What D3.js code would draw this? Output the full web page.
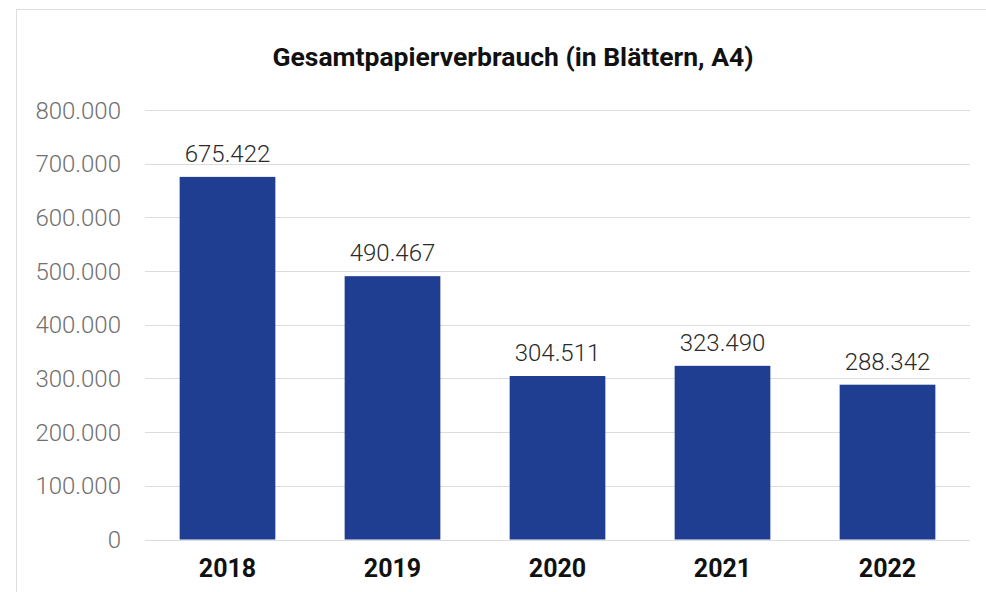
<!DOCTYPE html>
<html>
  <head>
    <meta charset="utf-8" />
    <title>Gesamtpapierverbrauch</title>
    <script src="https://cdn.jsdelivr.net/npm/d3@7"></script>
    <style type="text/css">
      body { margin: 0; background: #fff; }
      text { font-family: Roboto, sans-serif; }
    </style>
  </head>
  <body>
    <svg id="chart" width="986" height="592"></svg>
    <script type="text/javascript">
      // Jahre und Verbrauch
      var years = ['2018', '2019', '2020', '2021', '2022'];
      var sheets = [675422, 490467, 304511, 323490, 288342];
      var yTicks = [0, 100000, 200000, 300000, 400000, 500000, 600000, 700000, 800000];

      var fmt = d3.formatLocale({ decimal: ',', thousands: '.', grouping: [3], currency: ['', '€'] }).format(',d');

      var svg = d3.select('#chart');

      // Rahmen
      svg.append('rect')
        .attr('x', 16.5).attr('y', 9.5)
        .attr('width', 1000).attr('height', 700)
        .attr('fill', 'none').attr('stroke', '#dddddd');

      var x = d3.scaleBand().domain(years).range([145, 970]).paddingInner(0.42).paddingOuter(0.21);
      var y = d3.scaleLinear().domain([0, 800000]).range([539.5, 110]);

      svg.append('text')
        .attr('x', 513).attr('y', 66)
        .attr('text-anchor', 'middle')
        .style('font-size', '26.5px').style('font-weight', 'bold').attr('fill', '#111')
        .text('Gesamtpapierverbrauch (in Blättern, A4)');

      // Gitter
      svg.append('g').selectAll('line').data(yTicks).enter().append('line')
        .attr('x1', 145).attr('x2', 970)
        .attr('y1', (d) => Math.round(y(d)) + 0.5).attr('y2', (d) => Math.round(y(d)) + 0.5)
        .attr('stroke', '#dcdcdc');

      svg.append('g').selectAll('text').data(yTicks).enter().append('text')
        .attr('x', 121).attr('y', (d) => y(d) + 8.5)
        .attr('text-anchor', 'end')
        .style('font-size', '24px').style('font-weight', 300).attr('fill', '#707070')
        .text((d) => fmt(d));

      svg.append('g').selectAll('rect').data(sheets).enter().append('rect')
        .attr('x', (d, i) => x(years[i]))
        .attr('width', x.bandwidth())
        .attr('y', (d) => y(d))
        .attr('height', (d) => y(0) - y(d))
        .attr('fill', '#1f3d91');

      svg.append('g').selectAll('text').data(sheets).enter().append('text')
        .attr('x', (d, i) => x(years[i]) + x.bandwidth() / 2)
        .attr('y', (d) => y(d) - 15)
        .attr('text-anchor', 'middle')
        .style('font-size', '24px').style('font-weight', 300).attr('fill', '#2a2a2a')
        .text((d) => fmt(d));

      svg.append('g').selectAll('text').data(years).enter().append('text')
        .attr('x', (d) => x(d) + x.bandwidth() / 2)
        .attr('y', 577)
        .attr('text-anchor', 'middle')
        .style('font-size', '25px').style('font-weight', 'bold').attr('fill', '#111')
        .text((d) => d);
    </script>
  </body>
</html>
